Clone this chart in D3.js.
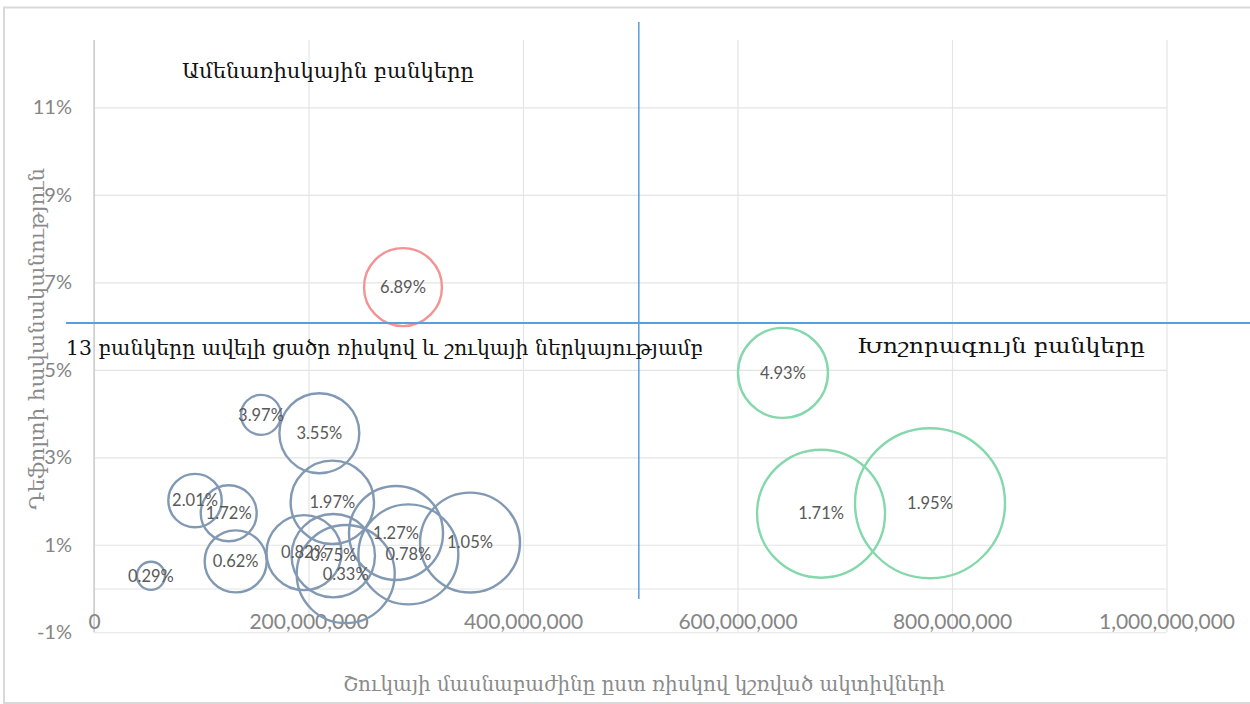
<!DOCTYPE html>
<html>
<head>
<meta charset="utf-8">
<script src="https://cdn.jsdelivr.net/npm/d3@7"></script>
<style>
  html, body { margin: 0; padding: 0; background: #ffffff; }
  svg { display: block; }
</style>
</head>
<body>
<script>
// Market share by risk-weighted assets (AMD) vs. probability of default (%)
const lowRiskX    = [53.1e6, 94.2e6, 125.6e6, 132.1e6, 155.7e6, 195.8e6, 210.1e6, 222.2e6, 223.1e6, 234.7e6, 281.6e6, 293.1e6, 350.6e6];
const lowRiskY    = [0.29, 2.01, 1.72, 0.62, 3.97, 0.82, 3.55, 1.97, 0.75, 0.33, 1.27, 0.78, 1.05];
const lowRiskSize = [3.5, 12.7, 13.9, 17.1, 7.1, 25.0, 28.4, 30.9, 30.9, 42.7, 39.3, 44.4, 44.4];

const riskyX    = [288.1e6];
const riskyY    = [6.89];
const riskySize = [27.0];

const largeX    = [642.4e6, 677.9e6, 779.5e6];
const largeY    = [4.93, 1.71, 1.95];
const largeSize = [36.0, 72.8, 100.0];

// Quadrant split values
const splitX = 508e6;
const splitY = 6.06;

const xTicks = [0, 2e8, 4e8, 6e8, 8e8, 1e9];
const yTicks = [-1, 1, 3, 5, 7, 9, 11];

const quadrantLabels = [
  "Ամենառիսկային բանկերը",
  "13 բանկերը ավելի ցածր ռիսկով և շուկայի ներկայությամբ",
  "Խոշորագույն բանկերը"
];
const xTitle = "Շուկայի մասնաբաժինը ըստ ռիսկով կշռված ակտիվների";
const yTitle = "Դեֆոլտի հավանականություն";

const W = 1250, H = 704;
const plot = { left: 94, right: 1166.5, top: 40, bottom: 632.25 };

const svg = d3.select("body").append("svg").attr("width", W).attr("height", H);

// chart frame
svg.append("rect")
  .attr("x", 4).attr("y", 7.5).attr("width", W).attr("height", 695.5)
  .attr("fill", "#fff").attr("stroke", "#d9d9d9").attr("stroke-width", 2);

const x = d3.scaleLinear().domain([0, 1e9]).range([plot.left, plot.right]);
const y = d3.scaleLinear().domain([-1, 12.54]).range([plot.bottom, plot.top]);
const r = d3.scaleSqrt().domain([0, 100]).range([0, 75]);

// gridlines
svg.append("g")
  .attr("transform", `translate(${plot.left},0)`)
  .call(d3.axisLeft(y).tickValues(yTicks.concat([0])).tickSize(-(plot.right - plot.left)).tickFormat(""))
  .call(g => g.select(".domain").remove())
  .call(g => g.selectAll("line").attr("stroke", "#e4e4e4").attr("stroke-width", 1.2));

svg.append("g")
  .attr("transform", `translate(0,${plot.bottom})`)
  .call(d3.axisBottom(x).tickValues(xTicks).tickSize(-(plot.bottom - plot.top)).tickFormat(""))
  .call(g => g.select(".domain").remove())
  .call(g => g.selectAll("line").attr("stroke", "#e4e4e4").attr("stroke-width", 1.2));

// vertical axis line
svg.append("line")
  .attr("x1", x(0)).attr("x2", x(0)).attr("y1", plot.top).attr("y2", plot.bottom)
  .attr("stroke", "#c4c4c4").attr("stroke-width", 1.2);

// tick labels
const tickFont = "Lato, 'Open Sans', sans-serif";
svg.append("g")
  .attr("transform", `translate(${plot.left},0)`)
  .call(d3.axisLeft(y).tickValues(yTicks).tickSize(0).tickPadding(22).tickFormat(d => d + "%"))
  .call(g => g.select(".domain").remove())
  .call(g => g.selectAll("text")
    .attr("font-family", tickFont).attr("font-size", 20).attr("fill", "#858585"));

svg.append("g")
  .attr("transform", `translate(0,${y(0)})`)
  .call(d3.axisBottom(x).tickValues(xTicks).tickSize(0).tickFormat(d3.format(",")))
  .call(g => g.select(".domain").remove())
  .call(g => g.selectAll("text")
    .attr("y", 33.5).attr("dy", "0.35em")
    .attr("font-family", tickFont).attr("font-size", 21).attr("fill", "#858585"));

// bubbles
function series(xs, ys, ss, color) {
  return xs.map((v, i) => ({ x: v, y: ys[i], s: ss[i], color }));
}
const all = [].concat(
  series(lowRiskX, lowRiskY, lowRiskSize, "#8299b4"),
  series(riskyX, riskyY, riskySize, "#f39393"),
  series(largeX, largeY, largeSize, "#84d8ac")
);

svg.append("g").selectAll("circle").data(all).join("circle")
  .attr("cx", d => x(d.x)).attr("cy", d => y(d.y)).attr("r", d => r(d.s))
  .attr("fill", "none").attr("stroke", d => d.color).attr("stroke-width", 2.4);

svg.append("g").selectAll("text").data(all).join("text")
  .attr("x", d => x(d.x)).attr("y", d => y(d.y)).attr("dy", "0.35em")
  .attr("text-anchor", "middle")
  .attr("font-family", tickFont).attr("font-size", 16.5).attr("fill", "#595959")
  .text(d => d.y.toFixed(2) + "%");

// quadrant divider lines
svg.append("line")
  .attr("x1", x(splitX)).attr("x2", x(splitX))
  .attr("y1", 22).attr("y2", 599)
  .attr("stroke", "#4f95d8").attr("stroke-width", 1.4);
svg.append("line")
  .attr("x1", 66).attr("x2", W)
  .attr("y1", Math.round(y(splitY))).attr("y2", Math.round(y(splitY)))
  .attr("stroke", "#5a9de0").attr("stroke-width", 2);

// quadrant labels
const serif = "'DejaVu Serif', serif";
const qPos = [[328, 72, 292], [384.5, 349, 637], [1001, 347, 288]];
svg.append("g").selectAll("text").data(quadrantLabels).join("text")
  .attr("x", (d, i) => qPos[i][0]).attr("y", (d, i) => qPos[i][1]).attr("dy", "0.3em")
  .attr("text-anchor", "middle")
  .attr("font-family", serif).attr("font-size", 21).attr("fill", "#111")
  .attr("textLength", (d, i) => qPos[i][2]).attr("lengthAdjust", "spacingAndGlyphs")
  .text(d => d);

// axis titles
svg.append("text")
  .attr("x", 644).attr("y", 685).attr("dy", "0.3em").attr("text-anchor", "middle")
  .attr("font-family", serif).attr("font-size", 21).attr("fill", "#8a8a8a")
  .attr("textLength", 602).attr("lengthAdjust", "spacingAndGlyphs")
  .text(xTitle);

svg.append("text")
  .attr("transform", "translate(38,339) rotate(-90)")
  .attr("dy", "0.3em").attr("text-anchor", "middle")
  .attr("font-family", serif).attr("font-size", 21).attr("fill", "#8a8a8a")
  .attr("textLength", 342).attr("lengthAdjust", "spacingAndGlyphs")
  .text(yTitle);
</script>
</body>
</html>
